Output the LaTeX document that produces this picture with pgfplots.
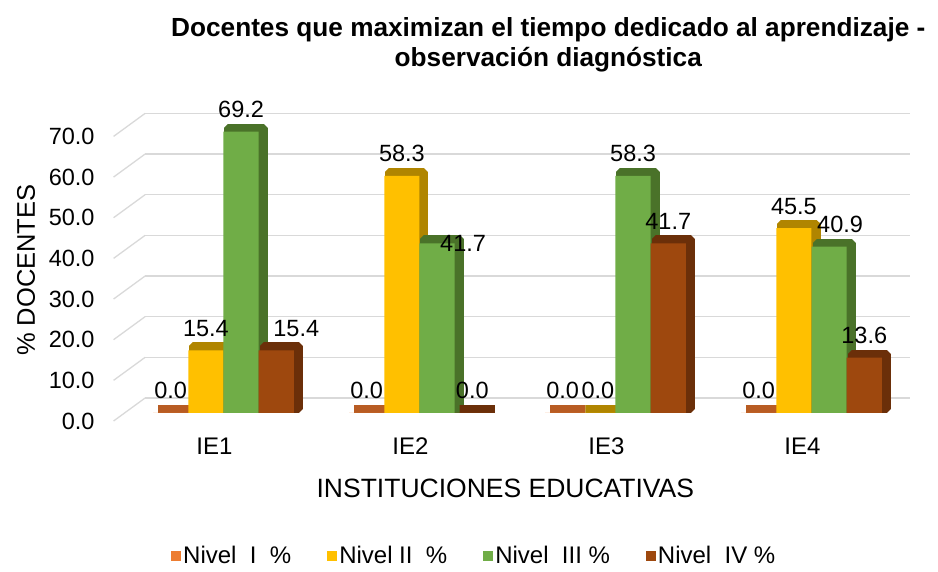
\documentclass[border=0pt]{standalone}
\usepackage{fontspec}
\setmainfont{Liberation Sans}
\usepackage{pgfplots}
\usepackage{pgfplotstable}
\pgfplotsset{compat=1.18}
\definecolor{cI}{HTML}{ED7D31}
\definecolor{cIs}{HTML}{B85C23}
\definecolor{cII}{HTML}{FFC000}
\definecolor{cIIs}{HTML}{B08500}
\definecolor{cIII}{HTML}{70AD47}
\definecolor{cIIIs}{HTML}{4A7229}
\definecolor{cIV}{HTML}{9E480E}
\definecolor{cIVs}{HTML}{6B2F09}
\definecolor{gridgray}{HTML}{D9D9D9}
\pgfplotstableread{
x I II III IV
0 0.0 15.4 69.2 15.4
1 0.0 58.3 41.7 0.0
2 0.0 0.0 58.3 41.7
3 0.0 45.5 40.9 13.6
}\datatable
\begin{document}
\begin{tikzpicture}
\begin{axis}[
  scale only axis, width=764.4pt, height=284.6pt,
  xmin=-0.4, xmax=3.5, ymin=0, ymax=70,
  ybar, bar width=35.2pt,
  xtick={0,1,2,3}, xticklabels={IE1,IE2,IE3,IE4},
  ytick={0,10,...,70},
  ytick pos=left, tick align=outside,
  yticklabel style={/pgf/number format/.cd,fixed,fixed zerofill,precision=1,assume math mode=true,/tikz/.cd,font=\fontsize{23.5}{26}\selectfont,xshift=-15.5pt,yshift=-8pt},
  xticklabel style={font=\fontsize{24}{26}\selectfont,yshift=10pt,xshift=-9pt},
  xtick style={draw=none},
  ytick style={draw=gridgray, line width=1.3pt, yslant=0.73, yshift=15pt},
  major tick length=31.5pt,
  ymajorgrids, major grid style={draw=gridgray, line width=1.3pt, yshift=15pt},
  axis line style={draw=none},
  clip=false,
  xlabel={INSTITUCIONES EDUCATIVAS},
  xlabel style={at={([yshift=-75pt,xshift=-22pt]rel axis cs:0.5,0)}, anchor=center, font=\fontsize{26.5}{30}\selectfont},
  ylabel={\% DOCENTES},
  ylabel style={at={([xshift=-119pt]rel axis cs:0,0.502)}, anchor=center, font=\fontsize{25.5}{28}\selectfont},
  title={Docentes que maximizan el tiempo dedicado al aprendizaje -\\observación diagnóstica},
  title style={at={([xshift=21pt,yshift=77.5pt]rel axis cs:0.5,1)}, anchor=center, align=center, font=\bfseries\fontsize{26.2}{30}\selectfont},
  legend style={at={([xshift=-53pt,yshift=-143pt]rel axis cs:0.5,0)}, anchor=center, draw=none, legend columns=4, font=\fontsize{24}{26}\selectfont, /tikz/every even column/.append style={column sep=34pt}},
  legend image code/.code={\fill[#1] (0pt,-5pt) rectangle (10pt,5pt);},
  nodes near coords={\pgfmathprintnumber[fixed,fixed zerofill,precision=1,assume math mode=true]{\pgfplotspointmeta}},
  every node near coord/.append style={font=\fontsize{23.5}{26}\selectfont, anchor=base, yshift=14pt, black},
  shadowbar/.style={fill=#1, draw=#1, line width=8pt, line join=bevel, xshift=5pt, yshift=4pt, forget plot, nodes near coords=},
]
\addplot[shadowbar=cIs, bar shift=-52.8pt] table[x=x,y=I]{\datatable};
\addplot[fill=cI, draw=none, bar shift=-52.8pt] table[x=x,y=I]{\datatable};
\addplot[shadowbar=cIIs, bar shift=-17.6pt] table[x=x,y=II]{\datatable};
\addplot[fill=cII, draw=none, bar shift=-17.6pt] table[x=x,y=II]{\datatable};
\addplot[shadowbar=cIIIs, bar shift=17.6pt] table[x=x,y=III]{\datatable};
\addplot[fill=cIII, draw=none, bar shift=17.6pt,
  coordinate style/.condition={\coordindex==1}{xshift=26pt, yshift=-22pt},
  coordinate style/.condition={\coordindex==3}{xshift=11pt}] table[x=x,y=III]{\datatable};
\addplot[shadowbar=cIVs, bar shift=52.8pt] table[x=x,y=IV]{\datatable};
\addplot[fill=cIV, draw=none, bar shift=52.8pt,
  coordinate style/.condition={\coordindex==0}{xshift=20pt}] table[x=x,y=IV]{\datatable};
\legend{Nivel\ \ I\ \ \%, Nivel II\ \ \%, Nivel\ \ III \%, Nivel\ \ IV \%}
\end{axis}
\useasboundingbox (-145.1pt,-159pt) rectangle (792.9pt,413pt);
\end{tikzpicture}
\end{document}
